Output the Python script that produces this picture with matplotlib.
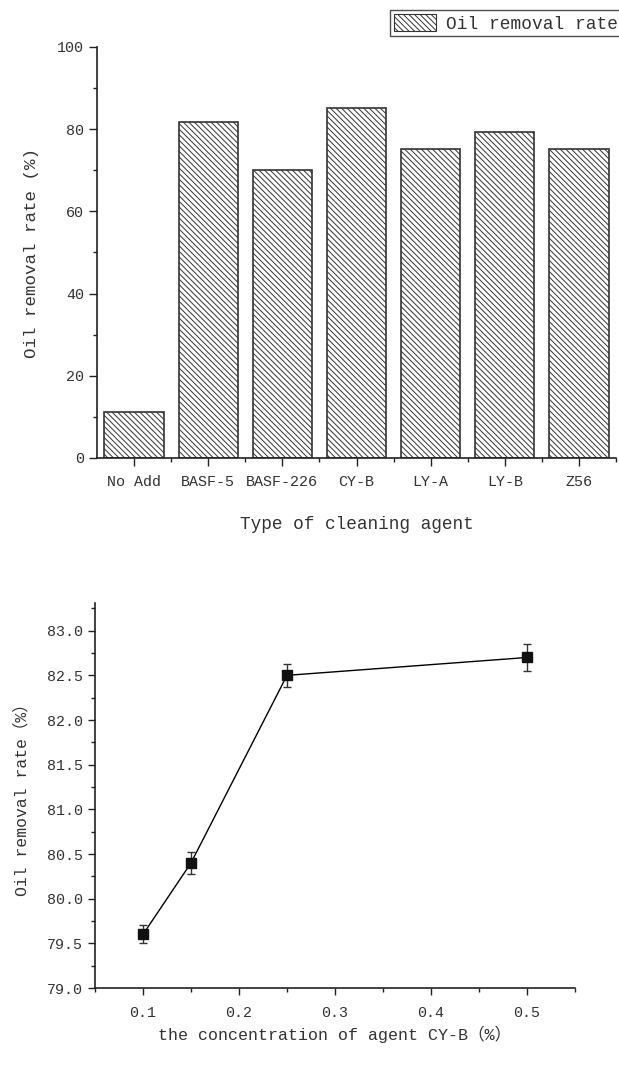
import matplotlib
matplotlib.use("Agg")
import matplotlib.pyplot as plt
from matplotlib.patches import Patch
from matplotlib.ticker import MultipleLocator, FixedLocator

plt.rcParams['font.family'] = ['Liberation Mono', 'Noto Sans CJK SC', 'DejaVu Sans']
plt.rcParams['hatch.linewidth'] = 0.7
plt.rcParams['hatch.color'] = '#333333'

# Data
agents = ["No Add", "BASF-5", "BASF-226", "CY-B", "LY-A", "LY-B", "Z56"]
removal = [11.2, 81.8, 70.1, 85.2, 75.3, 79.3, 75.3]

conc = [0.1, 0.15, 0.25, 0.5]
rate = [79.6, 80.4, 82.5, 82.7]
rate_err = [0.10, 0.12, 0.13, 0.15]

W, H = 619, 1065
fig = plt.figure(figsize=(W / 100, H / 100), dpi=100)
dark = "#222222"
txt = "#333333"
HATCH = "\\" * 6

# Top bar chart
ax1 = fig.add_axes([97 / W, 1 - 458 / H, (616 - 97) / W, (458 - 47) / H])
xs = list(range(len(agents)))
ax1.bar(xs, removal, width=0.8, color="white", edgecolor="#333333",
        hatch=HATCH, linewidth=1.2, label="Oil removal rate")
ax1.set_xlim(-0.5, len(agents) - 0.5)
ax1.set_ylim(0, 100)
ax1.spines['top'].set_visible(False)
ax1.spines['right'].set_visible(False)
for s in ['left', 'bottom']:
    ax1.spines[s].set_linewidth(1.2)
    ax1.spines[s].set_color(dark)
ax1.set_xticks(xs)
ax1.set_xticklabels(agents)
ax1.xaxis.set_minor_locator(FixedLocator([x + 0.5 for x in xs]))
ax1.yaxis.set_major_locator(MultipleLocator(20))
ax1.yaxis.set_minor_locator(MultipleLocator(10))
ax1.tick_params(which='major', direction='out', length=6, width=1.0, colors=dark,
                labelsize=10.8, labelcolor=txt)
ax1.tick_params(which='minor', direction='out', length=3, width=1.0, colors=dark)
ax1.tick_params(axis='x', which='major', pad=6)
ax1.set_xlabel("Type of cleaning agent", fontsize=12.8, color=txt, labelpad=20)
ax1.set_ylabel("Oil removal rate (%)", fontsize=12.6, color=txt, labelpad=13)

handle = Patch(facecolor="white", edgecolor="#333333", hatch=HATCH, linewidth=0.8)
leg = fig.legend([handle], ["Oil removal rate"], loc="upper left",
                 bbox_to_anchor=(390 / W, 1 - 10 / H), fontsize=12.9,
                 frameon=True, fancybox=False, borderpad=0.2, handlelength=2.35,
                 handleheight=1.15, handletextpad=0.55, borderaxespad=0)
leg.get_frame().set_edgecolor(dark)
leg.get_frame().set_linewidth(1.0)
for t in leg.get_texts():
    t.set_color(txt)

# Bottom line chart
ax2 = fig.add_axes([95 / W, 1 - 988 / H, (575 - 95) / W, (988 - 603) / H])
ax2.errorbar(conc, rate, yerr=rate_err, color="black", linewidth=1.0,
             marker="s", markersize=7.5, markerfacecolor="#111111",
             markeredgecolor="#111111", ecolor="#333333", elinewidth=1.0,
             capsize=3, capthick=1.0)
ax2.set_xlim(0.05, 0.55)
ax2.set_ylim(79.0, 83.31)
ax2.spines['top'].set_visible(False)
ax2.spines['right'].set_visible(False)
for s in ['left', 'bottom']:
    ax2.spines[s].set_linewidth(1.2)
    ax2.spines[s].set_color(dark)
xt = [0.1, 0.2, 0.3, 0.4, 0.5]
yt = [79.0, 79.5, 80.0, 80.5, 81.0, 81.5, 82.0, 82.5, 83.0]
ax2.xaxis.set_major_locator(FixedLocator(xt))
ax2.xaxis.set_minor_locator(FixedLocator([0.05, 0.15, 0.25, 0.35, 0.45, 0.55]))
ax2.yaxis.set_major_locator(FixedLocator(yt))
ax2.yaxis.set_minor_locator(MultipleLocator(0.25))
ax2.set_xticklabels([f"{v:.1f}" for v in xt])
ax2.set_yticklabels([f"{v:.1f}" for v in yt])
ax2.tick_params(which='major', direction='out', length=5, width=1.0, colors=dark,
                labelsize=10.8, labelcolor=txt)
ax2.tick_params(which='minor', direction='out', length=3, width=1.0, colors=dark)
ax2.tick_params(axis='x', which='major', pad=8)
ax2.set_xlabel("the concentration of agent CY-B（%）", fontsize=12, color=txt, labelpad=4)
ax2.set_ylabel("Oil removal rate（%）", fontsize=11.8, color=txt, labelpad=13)

fig.savefig("out.png", dpi=100)
